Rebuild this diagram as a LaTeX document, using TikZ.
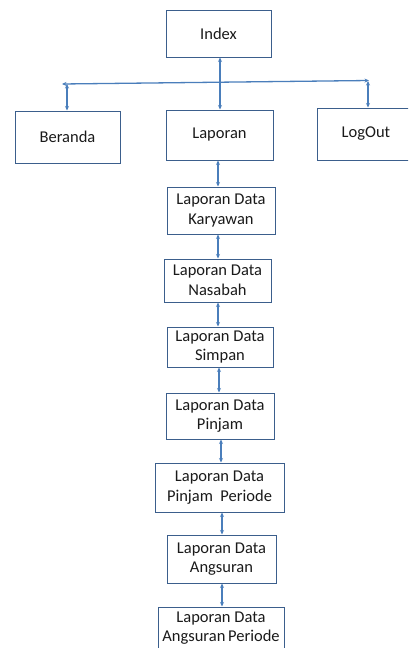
\documentclass[tikz,border=0pt]{standalone}
\usepackage{fontspec}
\setmainfont{Carlito}
\usetikzlibrary{arrows.meta}
\definecolor{boxline}{HTML}{3B5E8C}
\definecolor{connline}{HTML}{4A7EBB}
\definecolor{txt}{HTML}{1A1A1A}
\tikzset{
  boxtext/.style={inner sep=0pt, align=center, text=txt, font=\fontsize{16.5}{19.5}\selectfont},
  boxnode/.style={boxtext, draw=boxline, line width=1pt, fill=white},
  conn/.style={draw=connline, line width=1.3pt, {Stealth[length=4.5pt,width=4pt]}-{Stealth[length=4.5pt,width=4pt]}},
}
\begin{document}
\begin{tikzpicture}[x=1pt,y=-1pt]
\useasboundingbox (0,0) rectangle (408,648);
\clip (0,0) rectangle (408,648);
\node[boxnode, minimum width=105pt, minimum height=47pt] (index) at (218.5,33.5) {Index};
\node[boxnode, minimum width=105pt, minimum height=52pt] (beranda) at (67.5,137) {Beranda};
\node[boxnode, minimum width=107pt, minimum height=50pt] (laporan) at (219.5,135) {Laporan};
\node[boxnode, minimum width=98pt, minimum height=52pt] (logout) at (366,134) {LogOut};
\node[boxnode, minimum width=108pt, minimum height=47pt] (kary) at (221,210.5) {Laporan Data\\Karyawan};
\node[boxnode, minimum width=107pt, minimum height=43pt] (nas) at (217.5,280.5) {Laporan Data\\Nasabah};
\node[boxnode, minimum width=106pt, minimum height=40pt] (simp) at (220,347) {Laporan Data\\Simpan};
\node[boxnode, minimum width=108pt, minimum height=46pt] (pinj) at (220,416) {Laporan Data\\Pinjam};
\node[boxnode, minimum width=129pt, minimum height=49pt] (pinjp) at (219.5,487.5) {Laporan Data\\Pinjam\ \ Periode};
\node[boxnode, minimum width=109pt, minimum height=48pt] (angs) at (221.5,559) {Laporan Data\\Angsuran};
\node[boxnode, minimum width=126pt, minimum height=51pt] (angsp) at (221,632.5) {};
\node[boxtext] (angsptext) at (221,628) {Laporan Data\\Angsuran\,Periode};
\coordinate (hl) at (62,84);
\coordinate (hr) at (369,80.5);
\coordinate (hb) at (67,84);
\coordinate (hlo) at (368,81);
\draw[conn] (hl) -- (hr);
\draw[conn] (hb) -- (beranda.north -| hb);
\draw[conn] (hlo) -- (logout.north -| hlo);
\draw[conn] (index.south -| 220,0) -- (laporan.north -| 220,0);
\draw[conn] (laporan.south -| 218,0) -- (kary.north -| 218,0);
\draw[conn] (kary.south -| 218,0) -- (nas.north -| 218,0);
\draw[conn] (nas.south -| 218,0) -- (simp.north -| 218,0);
\draw[conn] (simp.south -| 219,0) -- (pinj.north -| 219,0);
\draw[conn] (pinj.south -| 221,0) -- (pinjp.north -| 221,0);
\draw[conn] (pinjp.south -| 222,0) -- (angs.north -| 222,0);
\draw[conn] (angs.south -| 222,0) -- (angsp.north -| 222,0);
\end{tikzpicture}
\end{document}
